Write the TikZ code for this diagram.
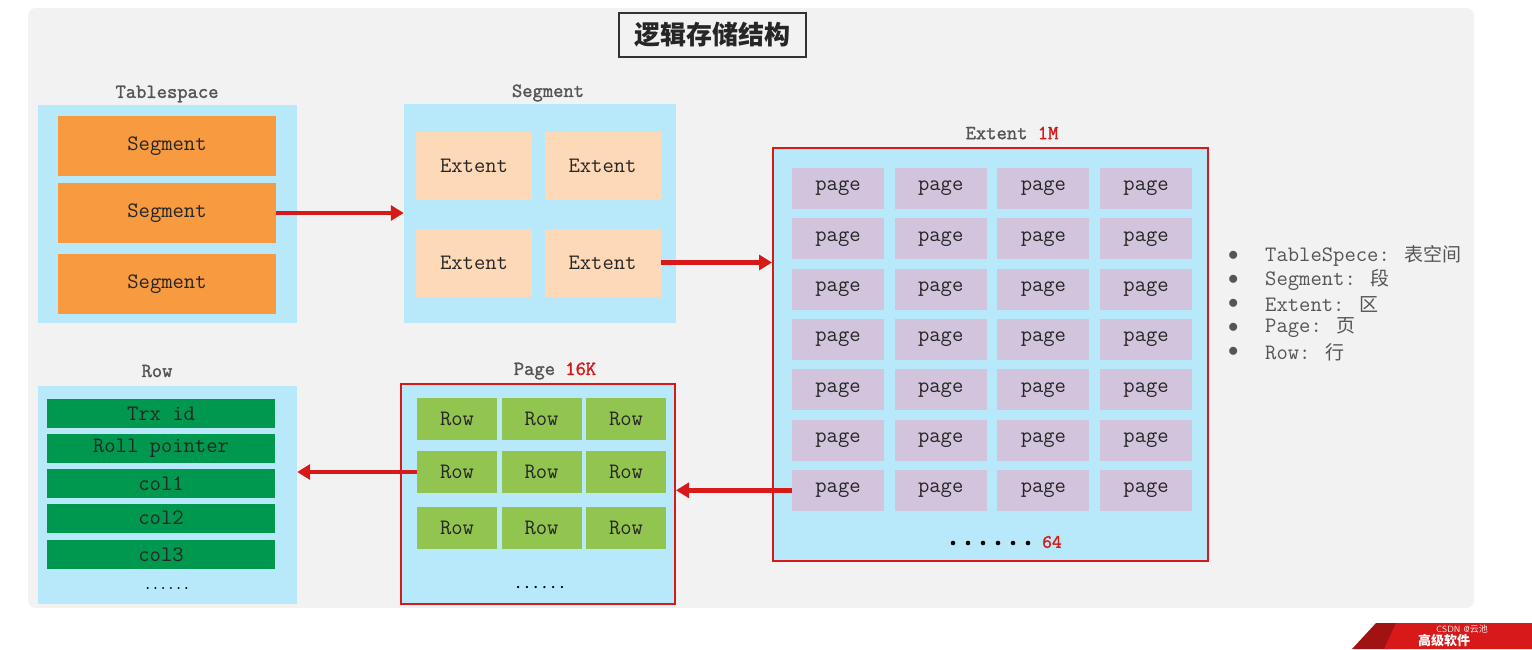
\documentclass[tikz,border=0pt]{standalone}
\usepackage{fontspec}
\newfontfamily\cjk{Noto Sans CJK SC}
\newfontfamily\boldmono{Latin Modern Mono}[FakeBold=1.6]
\usepackage{xcolor}
\usetikzlibrary{arrows.meta,positioning}
\definecolor{bggray}{RGB}{242,242,242}
\definecolor{boxblue}{RGB}{184,233,250}
\definecolor{segorange}{RGB}{247,154,64}
\definecolor{extpeach}{RGB}{253,217,183}
\definecolor{pagelilac}{RGB}{210,196,220}
\definecolor{rowgreen}{RGB}{146,196,80}
\definecolor{fieldgreen}{RGB}{0,152,78}
\definecolor{arrowred}{RGB}{215,25,25}
\definecolor{labelgray}{RGB}{85,85,85}
\tikzset{link/.style={-{Triangle[length=13pt,width=15pt]},line width=4.5pt,draw=arrowred}}
\begin{document}
\begin{tikzpicture}[x=1pt,y=-1pt,
    every node/.style={font=\ttfamily\fontsize{22}{24}\selectfont,text=black!85},
    outer box/.style={fill=boxblue,inner sep=0pt},
    red box/.style={outer box,draw=arrowred,line width=2pt},
    cell/.style={inner sep=0pt},
    head/.style={font=\boldmono\fontsize{20}{22}\selectfont,text=labelgray},
    legend/.style={anchor=west,inner sep=0pt,font=\ttfamily\fontsize{22}{24}\selectfont,text=labelgray}]
\useasboundingbox (0,0) rectangle (1532,649);
\fill[white] (0,0) rectangle (1532,649);
\fill[bggray,rounded corners=8pt] (28,8) rectangle (1474,608);

% title
\node[draw=black!80,line width=1.3pt,fill=bggray,minimum width=187pt,minimum height=44pt,
      font=\cjk\bfseries\fontsize{26}{28}\selectfont] (title) at (712.5,35) {逻辑存储结构};

% Tablespace
\node[head] (TablespaceLabel) at (167,94) {Tablespace};
\node[outer box,minimum width=259pt,minimum height=218pt] (TablespaceBox) at (167.5,214) {};
\foreach \i/\y in {1/146,2/213,3/284}
  \node[cell,fill=segorange,minimum width=218pt,minimum height=60pt] (seg\i) at (167,\y) {Segment};

% Segment
\node[head] (SegmentLabel) at (548,93) {Segment};
\node[outer box,minimum width=272pt,minimum height=219pt] (SegmentBox) at (540,213.5) {};
\foreach \r/\y in {1/166,2/262.5}
  \foreach \c/\x in {1/474,2/602.5}
    \node[cell,fill=extpeach,minimum width=116pt,minimum height=68pt] (ext\r\c) at (\x,\y) {Extent};

% Extent
\node[head] (ExtentLabel) at (1012,133) {Extent \textcolor{arrowred}{1M}};
\node[red box,minimum width=435pt,minimum height=413pt] (ExtentBox) at (990.5,354.5) {};
\foreach \r in {1,...,7}
  \foreach \c in {1,...,4}
    \node[cell,fill=pagelilac,minimum width=92pt,minimum height=41pt] (pg\r\c)
      at ({838+102.7*(\c-1)},{188.5+50.3*(\r-1)}) {page};
\foreach \i in {0,...,5}
  \fill[black] ({953+15*\i},543) circle (2.3pt);
\node[font=\boldmono\fontsize{19}{20}\selectfont,text=arrowred] (ExtentCount) at (1052,542) {64};

% Page
\node[head] (PageLabel) at (555,371) {Page \textcolor{arrowred}{16K}};
\node[red box,minimum width=274pt,minimum height=220pt] (PageBox) at (538,494) {};
\foreach \r/\y in {1/419,2/472,3/527.5}
  \foreach \c/\x in {1/457,2/541.5,3/626}
    \node[cell,fill=rowgreen,minimum width=80pt,minimum height=42pt] (row\r\c) at (\x,\y) {Row};
\node[font=\boldmono\fontsize{17}{18}\selectfont,text=black] (PageDots) at (540,587) {......};

% Row
\node[head] (RowLabel) at (157,371) {Row};
\node[outer box,minimum width=259pt,minimum height=218pt] (RowBox) at (167.5,495) {};
\foreach \i/\y/\t in {1/413.5/Trx id,2/448.5/Roll pointer,3/483.5/col1,4/518/col2,5/554.5/col3}
  \node[cell,fill=fieldgreen,minimum width=228pt,minimum height=29pt] (fld\i) at (161,\y) {\t};
\node[font=\boldmono\fontsize{15}{16}\selectfont,text=black] (RowDots) at (167,588) {......};

% arrows
\draw[link] (seg2.east) -- (SegmentBox.west |- seg2.east);
\draw[link] (ext22.east) -- (ExtentBox.west |- ext22.east);
\draw[link] (pg71.west) -- (PageBox.east |- pg71.west);
\draw[link] (row21.west) -- (RowBox.east |- row21.west);

% legend
\foreach \y/\t in {256/TableSpece: {\cjk\fontsize{19}{20}\selectfont 表空间},280/Segment: {\cjk\fontsize{19}{20}\selectfont 段},304/Extent: {\cjk\fontsize{19}{20}\selectfont 区},328/Page: {\cjk\fontsize{19}{20}\selectfont 页},352/Row: {\cjk\fontsize{19}{20}\selectfont 行}}
  {\node[legend] at (1228,\y) {$\bullet$};
   \node[legend] at (1265,\y) {\t};}

% corner banner
\fill[arrowred!75!black] (1352,649) -- (1376,623) -- (1398,623) -- (1388,649) -- cycle;
\fill[arrowred] (1384,649) -- (1396,623) -- (1532,623) -- (1532,649) -- cycle;
\node[font=\cjk\bfseries\fontsize{13}{14}\selectfont,text=white,anchor=south west,inner sep=0pt] (banner) at (1418,647) {高级软件};
\node[font=\sffamily\fontsize{9}{10}\selectfont,text=white!85!gray,anchor=north,inner sep=0pt] (mark) at (1462,624.5) {CSDN @{\cjk 云池}};
\end{tikzpicture}
\end{document}
